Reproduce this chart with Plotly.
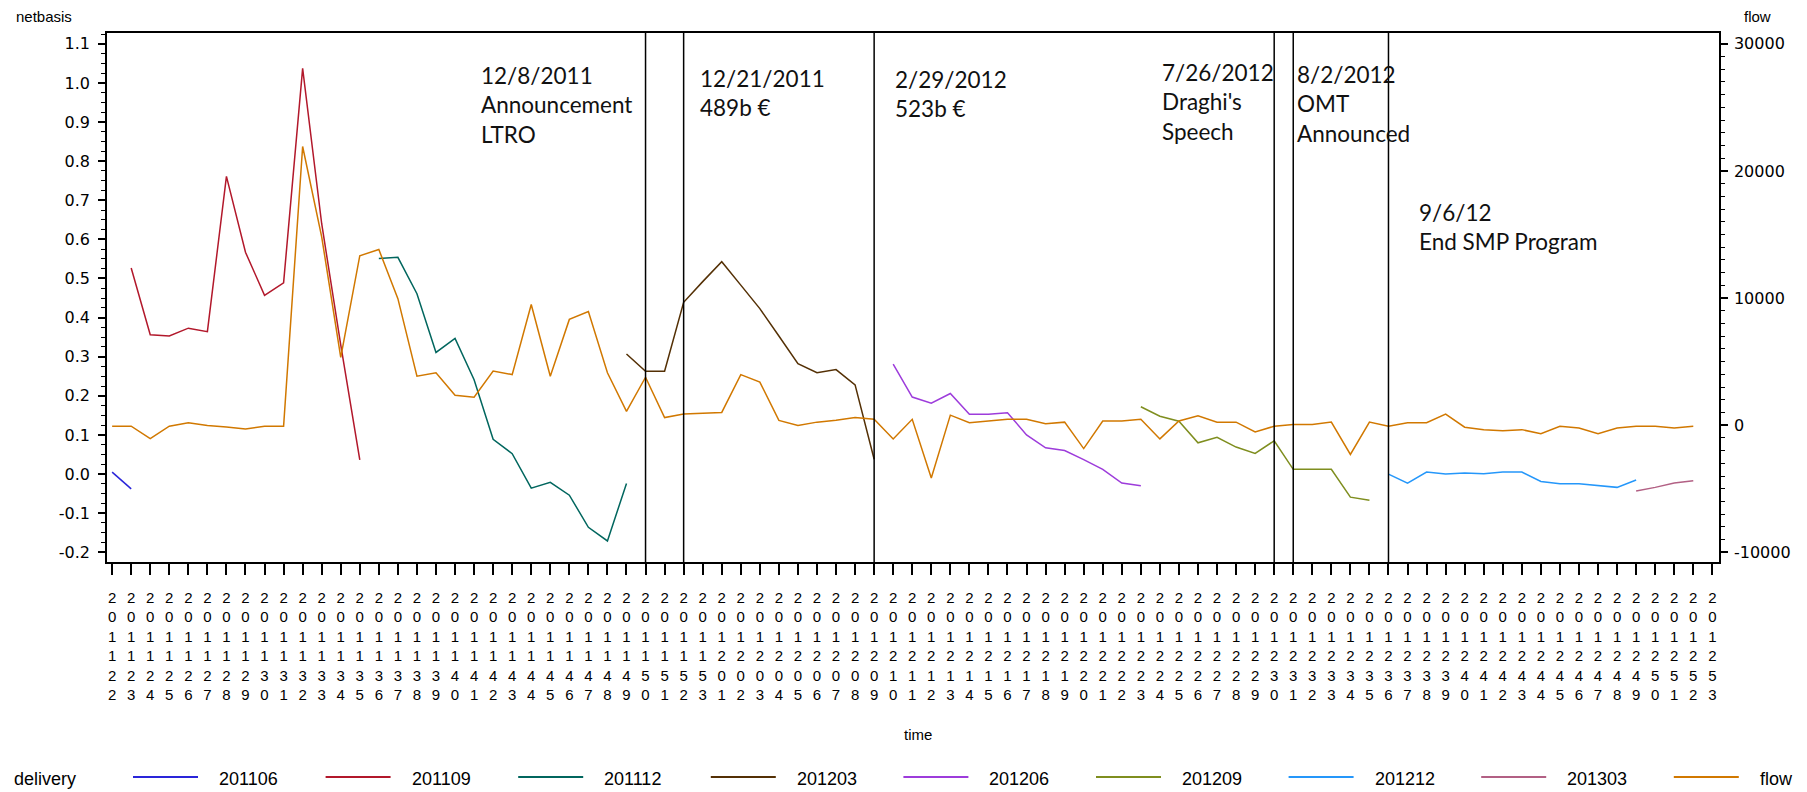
import plotly.graph_objects as go

# week labels on the category axis (year + week)
weeks = ["201122", "201123", "201124", "201125", "201126", "201127", "201128", "201129",
         "201130", "201131", "201132", "201133", "201134", "201135", "201136", "201137",
         "201138", "201139", "201140", "201141", "201142", "201143", "201144", "201145",
         "201146", "201147", "201148", "201149", "201150", "201151", "201152", "201153",
         "201201", "201202", "201203", "201204", "201205", "201206", "201207", "201208",
         "201209", "201210", "201211", "201212", "201213", "201214", "201215", "201216",
         "201217", "201218", "201219", "201220", "201221", "201222", "201223", "201224",
         "201225", "201226", "201227", "201228", "201229", "201230", "201231", "201232",
         "201233", "201234", "201235", "201236", "201237", "201238", "201239", "201240",
         "201241", "201242", "201243", "201244", "201245", "201246", "201247", "201248",
         "201249", "201250", "201251", "201252", "201253"]

# netbasis per delivery contract
nb_201106 = [0.005, -0.038]
nb_201109 = [0.527, 0.356, 0.353, 0.373, 0.364, 0.761, 0.567, 0.457, 0.489, 1.037,
             0.640, 0.330, 0.036]
nb_201112 = [0.551, 0.554, 0.461, 0.311, 0.347, 0.241, 0.089, 0.052, -0.036, -0.021,
             -0.054, -0.136, -0.171, -0.024]
nb_201203 = [0.307, 0.263, 0.263, 0.439, 0.492, 0.543, 0.483, 0.423, 0.353, 0.282,
             0.259, 0.267, 0.228, 0.038]
nb_201206 = [0.281, 0.197, 0.181, 0.206, 0.153, 0.153, 0.157, 0.100, 0.067, 0.060,
             0.037, 0.012, -0.023, -0.030]
nb_201209 = [0.172, 0.148, 0.135, 0.080, 0.094, 0.069, 0.053, 0.085, 0.012, 0.012,
             0.012, -0.059, -0.067]
nb_201212 = [0.000, -0.023, 0.005, 0.000, 0.003, 0.001, 0.005, 0.005, -0.019, -0.025,
             -0.025, -0.030, -0.034, -0.015]
nb_201303 = [-0.043, -0.034, -0.023, -0.017]

# flow (right axis)
flow = [-80, -80, -1060, -80, 190, -30, -140, -300, -80, -80,
        21920, 14820, 5340, 13330, 13820, 9950, 3850, 4120, 2360, 2200,
        4260, 3980, 9490, 3850, 8320, 8940, 4120, 1080, 3770, 600,
        870, 920, 1000, 3980, 3390, 380, -30, 240, 380, 600,
        460, -1080, 460, -4150, 790, 190, 330, 460, 460, 110,
        240, -1840, 330, 330, 460, -1080, 330, 730, 240, 240,
        -540, -80, 50, 50, 240, -2300, 240, -80, 190, 190,
        870, -160, -350, -430, -350, -680, -80, -220, -680, -220,
        -80, -80, -220, -80]

# (name, first week index, values, colour)
deliveries = [
    ("201106", 0, nb_201106, "#2A25D9"),
    ("201109", 1, nb_201109, "#B2182B"),
    ("201112", 14, nb_201112, "#01665E"),
    ("201203", 27, nb_201203, "#543005"),
    ("201206", 41, nb_201206, "#9D3CDB"),
    ("201209", 54, nb_201209, "#7F8E1F"),
    ("201212", 67, nb_201212, "#2597FA"),
    ("201303", 80, nb_201303, "#B26084"),
]
flow_color = "#D17800"

# event markers
event_weeks = ["201150", "201152", "201209", "201230", "201231", "201236"]
event_texts = ["12/8/2011<br>Announcement<br>LTRO", "12/21/2011<br>489b €",
               "2/29/2012<br>523b €", "7/26/2012<br>Draghi's<br>Speech",
               "8/2/2012<br>OMT<br>Announced", "9/6/12<br>End SMP Program"]

left_ticks = [-0.2, -0.1, 0.0, 0.1, 0.2, 0.3, 0.4, 0.5, 0.6, 0.7, 0.8, 0.9, 1.0, 1.1]
left_ticktext = ["-0.2", "-0.1", "0.0", "0.1", "0.2", "0.3", "0.4", "0.5", "0.6",
                 "0.7", "0.8", "0.9", "1.0", "1.1"]
right_ticks = [-10000, 0, 10000, 20000, 30000]
right_ticktext = ["-10000", "0", "10000", "20000", "30000"]

# plot area in pixels
L, R, T, B = 107, 1719, 33, 562


def px(x):
    return (x - L) / (R - L)


def py(y):
    return (B - y) / (B - T)


NARROW = "Liberation Sans Narrow, Arial Narrow, Liberation Sans, Arial, sans-serif"
SANS = "DejaVu Sans, Liberation Sans, Arial, sans-serif"
NOTE = "Lato, Open Sans, sans-serif"

fig = go.Figure()

for name, start, vals, col in deliveries:
    fig.add_trace(go.Scatter(x=weeks[start:start + len(vals)], y=vals, mode="lines",
                             name=name, line=dict(color=col, width=1.5),
                             showlegend=False))

fig.add_trace(go.Scatter(x=weeks[:len(flow)], y=flow, mode="lines", name="flow",
                         yaxis="y2", line=dict(color=flow_color, width=1.5),
                         showlegend=False))

shapes = []
for wk in event_weeks:
    # category axis shapes take the category index
    xi = weeks.index(wk)
    shapes.append(dict(type="line", xref="x", yref="paper", x0=xi, x1=xi, y0=0, y1=1,
                       line=dict(color="black", width=1.5)))

annotations = []
# event notes
note_pos = [(479, 105), (698, 93), (893, 94), (1160, 102), (1295, 104), (1417, 227)]
for (xp, yp), txt in zip(note_pos, event_texts):
    annotations.append(dict(text=txt, xref="paper", yref="paper", x=px(xp), y=py(yp),
                            xanchor="left", yanchor="middle", align="left",
                            showarrow=False, font=dict(family=NOTE, size=22.5, color="#111")))

# axis titles
annotations.append(dict(text="netbasis", xref="paper", yref="paper", x=px(14), y=py(17),
                        xanchor="left", yanchor="middle", showarrow=False,
                        font=dict(family="Liberation Sans, Arial", size=15, color="black")))
annotations.append(dict(text="flow", xref="paper", yref="paper", x=px(1742), y=py(17),
                        xanchor="left", yanchor="middle", showarrow=False,
                        font=dict(family="Liberation Sans, Arial", size=15, color="black")))
annotations.append(dict(text="time", xref="paper", yref="paper", x=px(918), y=py(734),
                        xanchor="center", yanchor="middle", showarrow=False,
                        font=dict(family="Liberation Sans, Arial", size=15, color="black")))

# legend drawn by hand to get the long SAS line samples
leg_y = 779
annotations.append(dict(text="delivery", xref="paper", yref="paper", x=px(12), y=py(leg_y),
                        xanchor="left", yanchor="middle", showarrow=False,
                        font=dict(family=NARROW, size=18, color="black")))
leg_items = [(n, c) for n, _, _, c in deliveries] + [("flow", flow_color)]
for i, (name, col) in enumerate(leg_items):
    x0 = 133 + 192.6 * i
    shapes.append(dict(type="line", xref="paper", yref="paper", x0=px(x0), x1=px(x0 + 65),
                       y0=py(leg_y - 2), y1=py(leg_y - 2), line=dict(color=col, width=2)))
    annotations.append(dict(text=name, xref="paper", yref="paper", x=px(x0 + 84), y=py(leg_y),
                            xanchor="left", yanchor="middle", showarrow=False,
                            font=dict(family=NARROW, size=18, color="black")))

fig.update_layout(
    width=1807,
    height=792,
    margin=dict(l=L, r=1807 - R, t=T, b=792 - B),
    paper_bgcolor="white",
    plot_bgcolor="white",
    showlegend=False,
    shapes=shapes,
    annotations=annotations,
    xaxis=dict(
        type="category",
        categoryorder="array",
        categoryarray=weeks,
        range=[-0.27, 84.35],
        tickvals=weeks,
        ticktext=["<br>".join(w) for w in weeks],
        ticks="outside", ticklen=11, tickwidth=1.5, tickcolor="black",
        tickfont=dict(family=NARROW, size=15, color="black"),
        ticklabelstandoff=10,
        showline=True, linecolor="black", linewidth=1.5, mirror=True,
        showgrid=False, zeroline=False,
    ),
    yaxis=dict(
        range=[-0.2248, 1.1276],
        tickmode="array", tickvals=left_ticks, ticktext=left_ticktext,
        ticks="outside", ticklen=7, tickwidth=1.5, tickcolor="black",
        minor=dict(dtick=0.025, tick0=0, ticks="outside", ticklen=4, tickcolor="black",
                   tickwidth=1, showgrid=False),
        tickfont=dict(family=SANS, size=16, color="black"),
        ticklabelstandoff=5,
        showline=True, linecolor="black", linewidth=1.5,
        showgrid=False, zeroline=False,
    ),
    yaxis2=dict(
        overlaying="y", side="right",
        range=[-10763, 30850],
        tickmode="array", tickvals=right_ticks, ticktext=right_ticktext,
        ticks="outside", ticklen=7, tickwidth=1.5, tickcolor="black",
        minor=dict(dtick=1000, tick0=0, ticks="outside", ticklen=4, tickcolor="black",
                   tickwidth=1, showgrid=False),
        tickfont=dict(family=SANS, size=16, color="black"),
        ticklabelstandoff=3,
        showline=True, linecolor="black", linewidth=1.5,
        showgrid=False, zeroline=False,
    ),
)

# drop the default page margin so the figure sits at the window's top-left corner
fig.write_html("out.html", config={"displayModeBar": False},
               post_script="document.body.style.margin='0';")
